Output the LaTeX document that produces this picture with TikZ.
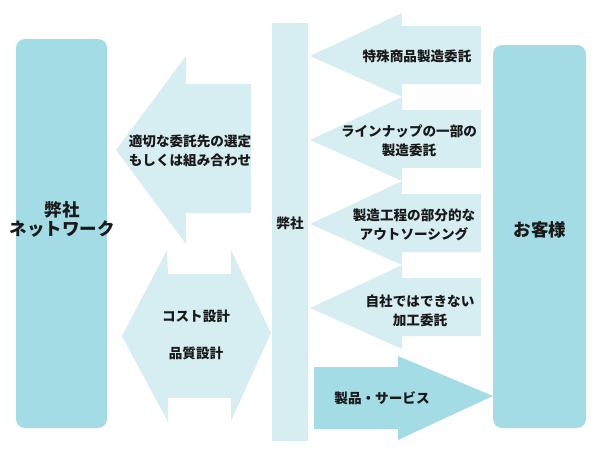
\documentclass[tikz,border=0pt]{standalone}
\usepackage{fontspec}
\setmainfont{Noto Sans CJK JP}
\definecolor{dark}{HTML}{A3DCE4}
\definecolor{light}{HTML}{D6EEF2}
\tikzset{
  bigbox/.style={fill=dark, rounded corners=9pt},
  lightfill/.style={fill=light},
  lbl/.style={font=\fontsize{13.6}{18.5}\selectfont\bfseries, align=center, inner sep=0pt, text=black!90},
  biglbl/.style={font=\fontsize{17.5}{19}\selectfont\bfseries, align=center, inner sep=0pt, text=black!90}
}
\begin{document}
\begin{tikzpicture}[x=1pt,y=-1pt]
\useasboundingbox (0,0) rectangle (600,450);
% boxes
\fill[bigbox] (16,39) rectangle (107,428);
\fill[bigbox] (493,45) rectangle (586,428);
\fill[lightfill] (272,23) rectangle (308,441);
% big left arrow
\fill[lightfill] (116,150) -- (186,56) -- (186,84) -- (251,84) -- (251,213) -- (186,213) -- (186,244) -- cycle;
% double arrow
\fill[lightfill] (122,336) -- (167,250) -- (168,274) -- (231,274) -- (231,250) -- (271,333)
  -- (231,421) -- (231,398) -- (168,398) -- (168,422) -- cycle;
% right small arrows
\foreach \c in {56,140,224,308}{
  \fill[lightfill] (310,\c) -- (402,\c-43) -- (402,\c-30) -- (481,\c-30) -- (481,\c+28) -- (402,\c+28) -- (402,\c+41) -- cycle;
}
% product arrow
\fill[dark] (314,367) -- (398,367) -- (398,356) -- (493,396) -- (398,440) -- (398,429) -- (314,429) -- cycle;
% texts
\node[biglbl] (net) at (62,219) {弊社\\ネットワーク};
\node[biglbl] (cust) at (540,230) {お客様};
\node[lbl] (hei) at (290,223) {弊社};
\node[lbl] (sel) at (190,151) {適切な委託先の選定\\もしくは組み合わせ};
\node[lbl] (cost) at (196,316) {コスト設計};
\node[lbl] (qual) at (196,353) {品質設計};
\node[lbl] (a1) at (417,56) {特殊商品製造委託};
\node[lbl] (a2) at (409,141) {ラインナップの一部の\\製造委託};
\node[lbl] (a3) at (414,225) {製造工程の部分的な\\アウトソーシング};
\node[lbl] (a4) at (420,311) {自社ではできない\\加工委託};
\node[lbl] (prod) at (382,398) {製品・サービス};
\end{tikzpicture}
\end{document}
